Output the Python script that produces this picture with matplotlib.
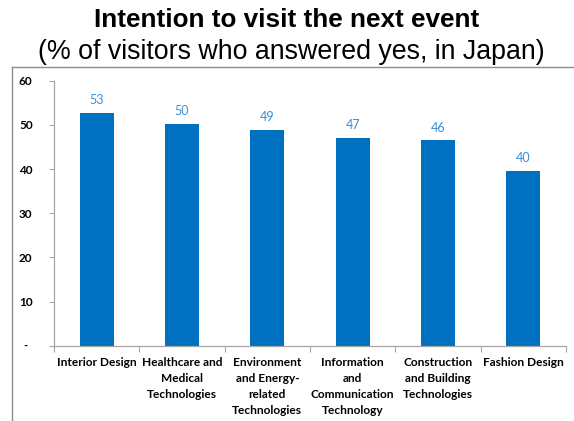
import matplotlib.pyplot as plt
from matplotlib.lines import Line2D
from matplotlib.ticker import FixedLocator

# === Data ===
categories = [
    "Interior Design",
    "Healthcare and\nMedical\nTechnologies",
    "Environment\nand Energy-\nrelated\nTechnologies",
    "Information\nand\nCommunication\nTechnology",
    "Construction\nand Building\nTechnologies",
    "Fashion Design",
]
yes_share = [52.7, 50.3, 48.9, 47.1, 46.5, 39.6]
y_ticks = [0, 10, 20, 30, 40, 50, 60]
y_tick_labels = ["-", "10", "20", "30", "40", "50", "60"]

bar_color = "#0070C0"
label_color = "#3A8FD8"
axis_gray = "#A6A6A6"

# === Figure ===
fig = plt.figure(figsize=(5.74, 4.21), dpi=100)
ax = fig.add_axes([54 / 574, 1 - 345.7 / 421, 512 / 574, 265 / 421])

x = range(len(categories))
bars = ax.bar(x, yes_share, width=0.4, color=bar_color, zorder=2)

for b, v in zip(bars, yes_share):
    ax.text(b.get_x() + b.get_width() / 2, v + 1.5, f"{v:.0f}",
            ha="center", va="bottom", fontsize=9, color=label_color,
            family="Lato")

ax.set_xlim(-0.5, len(categories) - 0.5)
ax.set_ylim(0, 60)
ax.set_yticks(y_ticks)
ax.set_yticklabels(y_tick_labels, fontsize=8.5, fontweight="bold", family="Lato")
ax.tick_params(axis="y", length=3.3, width=0.8, color=axis_gray, pad=17)
for t in ax.get_yticklabels():
    t.set_horizontalalignment("center")

# category labels on major ticks, tick marks on category boundaries
ax.set_xticks(list(x))
ax.set_xticklabels(categories, fontsize=8.6, fontweight="bold", family="Lato",
                   linespacing=1.55, va="top")
ax.tick_params(axis="x", which="major", length=0, pad=8)
ax.xaxis.set_minor_locator(FixedLocator([i - 0.5 for i in range(len(categories) + 1)]))
ax.tick_params(axis="x", which="minor", length=4, width=0.8, color=axis_gray)

for side in ["top", "right"]:
    ax.spines[side].set_visible(False)
for side in ["left", "bottom"]:
    ax.spines[side].set_color(axis_gray)
    ax.spines[side].set_linewidth(0.9)

# === Title ===
fig.text(287 / 574, 1 - 20 / 421, "Intention to visit the next event",
         ha="center", va="center", fontsize=18.8, fontweight="bold",
         family="Liberation Sans")
fig.text(291 / 574, 1 - 52 / 421, "(% of visitors who answered yes, in Japan)",
         ha="center", va="center", fontsize=19.3, family="Liberation Sans")

# === Frame around the chart area ===
frame_kw = dict(color="#8C8C8C", lw=1.0, transform=fig.transFigure)
fig.add_artist(Line2D([11.5 / 574, 1], [1 - 67 / 421, 1 - 67 / 421], **frame_kw))
fig.add_artist(Line2D([11.5 / 574, 11.5 / 574], [0, 1 - 67 / 421], **frame_kw))

fig.savefig("out.png", dpi=100)
